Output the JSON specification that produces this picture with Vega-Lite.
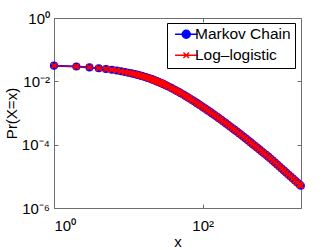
{
  "$schema": "https://vega.github.io/schema/vega-lite/v6.json",
  "width": 247,
  "height": 190,
  "autosize": {"type": "none"},
  "padding": {"left": 54, "top": 18, "right": 31, "bottom": 42},
  "background": "white",
  "config": {
    "view": {"stroke": "#6e6e6e", "strokeWidth": 1},
    "font": "Liberation Sans",
    "axis": {
      "grid": false,
      "domain": false,
      "tickColor": "#6e6e6e",
      "tickSize": -4,
      "labelFont": "Liberation Sans",
      "labelFontSize": 15,
      "labelColor": "black",
      "titleFont": "Liberation Sans",
      "titleFontSize": 15,
      "titleFontWeight": "normal",
      "titleColor": "black"
    }
  },
  "data": {
    "values": [
      {"x": 1, "mc": 0.03122, "ll": 0.03122},
      {"x": 2, "mc": 0.02930, "ll": 0.02930},
      {"x": 3, "mc": 0.02755, "ll": 0.02755},
      {"x": 4, "mc": 0.02595, "ll": 0.02595},
      {"x": 5, "mc": 0.02449, "ll": 0.02449},
      {"x": 6, "mc": 0.02315, "ll": 0.02315},
      {"x": 7, "mc": 0.02191, "ll": 0.02191},
      {"x": 8, "mc": 0.02078, "ll": 0.02078},
      {"x": 9, "mc": 0.01972, "ll": 0.01972},
      {"x": 10, "mc": 0.01875, "ll": 0.01875},
      {"x": 11, "mc": 0.01785, "ll": 0.01785},
      {"x": 12, "mc": 0.01701, "ll": 0.01701},
      {"x": 13, "mc": 0.01623, "ll": 0.01623},
      {"x": 14, "mc": 0.01550, "ll": 0.01550},
      {"x": 15, "mc": 0.01482, "ll": 0.01482},
      {"x": 16, "mc": 0.01418, "ll": 0.01418},
      {"x": 17, "mc": 0.01358, "ll": 0.01358},
      {"x": 18, "mc": 0.01302, "ll": 0.01302},
      {"x": 19, "mc": 0.01250, "ll": 0.01250},
      {"x": 20, "mc": 0.01200, "ll": 0.01200},
      {"x": 21, "mc": 0.01148, "ll": 0.01148},
      {"x": 22, "mc": 0.01100, "ll": 0.01100},
      {"x": 23, "mc": 0.01055, "ll": 0.01055},
      {"x": 24, "mc": 0.01013, "ll": 0.01013},
      {"x": 25, "mc": 0.009727, "ll": 0.009727},
      {"x": 26, "mc": 0.009351, "ll": 0.009351},
      {"x": 27, "mc": 0.008999, "ll": 0.008999},
      {"x": 28, "mc": 0.008663, "ll": 0.008663},
      {"x": 29, "mc": 0.008347, "ll": 0.008347},
      {"x": 30, "mc": 0.008046, "ll": 0.008046},
      {"x": 32, "mc": 0.007493, "ll": 0.007493},
      {"x": 34, "mc": 0.006995, "ll": 0.006995},
      {"x": 37, "mc": 0.006338, "ll": 0.006338},
      {"x": 39, "mc": 0.005949, "ll": 0.005949},
      {"x": 42, "mc": 0.005428, "ll": 0.005428},
      {"x": 45, "mc": 0.004974, "ll": 0.004974},
      {"x": 48, "mc": 0.004573, "ll": 0.004573},
      {"x": 51, "mc": 0.004219, "ll": 0.004219},
      {"x": 55, "mc": 0.003807, "ll": 0.003807},
      {"x": 59, "mc": 0.003451, "ll": 0.003451},
      {"x": 63, "mc": 0.003144, "ll": 0.003144},
      {"x": 67, "mc": 0.002874, "ll": 0.002874},
      {"x": 72, "mc": 0.002583, "ll": 0.002583},
      {"x": 77, "mc": 0.002334, "ll": 0.002334},
      {"x": 83, "mc": 0.002079, "ll": 0.002079},
      {"x": 89, "mc": 0.001864, "ll": 0.001864},
      {"x": 95, "mc": 0.001680, "ll": 0.001680},
      {"x": 102, "mc": 0.001500, "ll": 0.001500},
      {"x": 109, "mc": 0.001352, "ll": 0.001352},
      {"x": 117, "mc": 0.001209, "ll": 0.001209},
      {"x": 125, "mc": 0.001088, "ll": 0.001088},
      {"x": 134, "mc": 0.0009715, "ll": 0.0009715},
      {"x": 144, "mc": 0.0008631, "ll": 0.0008631},
      {"x": 154, "mc": 0.0007718, "ll": 0.0007718},
      {"x": 165, "mc": 0.0006872, "ll": 0.0006872},
      {"x": 177, "mc": 0.0006098, "ll": 0.0006098},
      {"x": 190, "mc": 0.0005399, "ll": 0.0005399},
      {"x": 204, "mc": 0.0004772, "ll": 0.0004772},
      {"x": 218, "mc": 0.0004249, "ll": 0.0004249},
      {"x": 234, "mc": 0.0003749, "ll": 0.0003749},
      {"x": 251, "mc": 0.0003309, "ll": 0.0003309},
      {"x": 269, "mc": 0.0002923, "ll": 0.0002923},
      {"x": 288, "mc": 0.0002584, "ll": 0.0002584},
      {"x": 309, "mc": 0.0002274, "ll": 0.0002274},
      {"x": 331, "mc": 0.0002005, "ll": 0.0002005},
      {"x": 355, "mc": 0.0001763, "ll": 0.0001763},
      {"x": 380, "mc": 0.0001555, "ll": 0.0001555},
      {"x": 407, "mc": 0.0001368, "ll": 0.0001368},
      {"x": 437, "mc": 0.0001198, "ll": 0.0001198},
      {"x": 468, "mc": 0.0001054, "ll": 0.0001054},
      {"x": 502, "mc": 0.00009233, "ll": 0.00009233},
      {"x": 538, "mc": 0.00008100, "ll": 0.00008100},
      {"x": 576, "mc": 0.00007115, "ll": 0.00007115},
      {"x": 618, "mc": 0.00006223, "ll": 0.00006223},
      {"x": 662, "mc": 0.00005457, "ll": 0.00005457},
      {"x": 710, "mc": 0.00004772, "ll": 0.00004772},
      {"x": 761, "mc": 0.00004176, "ll": 0.00004176},
      {"x": 815, "mc": 0.00003659, "ll": 0.00003659},
      {"x": 874, "mc": 0.00003154, "ll": 0.00003154},
      {"x": 936, "mc": 0.00002735, "ll": 0.00002735},
      {"x": 1004, "mc": 0.00002364, "ll": 0.00002364},
      {"x": 1076, "mc": 0.00002045, "ll": 0.00002045},
      {"x": 1153, "mc": 0.00001770, "ll": 0.00001770},
      {"x": 1236, "mc": 0.00001531, "ll": 0.00001531},
      {"x": 1324, "mc": 0.00001325, "ll": 0.00001325},
      {"x": 1419, "mc": 0.00001146, "ll": 0.00001146},
      {"x": 1521, "mc": 0.000009900, "ll": 0.000009900},
      {"x": 1630, "mc": 0.000008557, "ll": 0.000008557},
      {"x": 1747, "mc": 0.000007395, "ll": 0.000007395},
      {"x": 1872, "mc": 0.000006391, "ll": 0.000006391},
      {"x": 2006, "mc": 0.000005522, "ll": 0.000005522},
      {"x": 2090, "mc": 0.000005064, "ll": 0.000005064}
    ]
  },
  "resolve": {"axis": {"x": "independent", "y": "independent"}},
  "layer": [
    {
      "mark": {"type": "line", "color": "#0000ff", "strokeWidth": 2, "clip": false},
      "encoding": {
        "x": {
          "field": "x", "type": "quantitative",
          "scale": {"type": "log", "domain": [1, 2100], "nice": false},
          "axis": {
            "orient": "bottom",
            "values": [1, 100],
            "labelExpr": "datum.value < 10 ? '10⁰' : '10²'",
            "labelPadding": 14,
            "title": "x",
            "titlePadding": 1
          }
        },
        "y": {
          "field": "mc", "type": "quantitative",
          "scale": {"type": "log", "domain": [0.000001, 1], "nice": false},
          "axis": {
            "orient": "left",
            "values": [0.000001, 0.0001, 0.01, 1],
            "labelExpr": "datum.value > 0.5 ? '10⁰' : datum.value > 0.005 ? '10⁻²' : datum.value > 0.00005 ? '10⁻⁴' : '10⁻⁶'",
            "labelPadding": 8.5,
            "title": "Pr(X=x)",
            "titlePadding": 2
          }
        }
      }
    },
    {
      "mark": {"type": "point", "shape": "circle", "filled": true, "color": "#0000ff", "size": 66, "opacity": 1},
      "encoding": {
        "x": {"field": "x", "type": "quantitative", "axis": null},
        "y": {"field": "mc", "type": "quantitative", "axis": null}
      }
    },
    {
      "mark": {"type": "line", "color": "#ff0000", "strokeWidth": 1},
      "encoding": {
        "x": {
          "field": "x", "type": "quantitative",
          "axis": {"orient": "top", "values": [1, 100], "labels": false, "title": null}
        },
        "y": {
          "field": "ll", "type": "quantitative",
          "axis": {"orient": "right", "values": [0.000001, 0.0001, 0.01, 1], "labels": false, "title": null}
        }
      }
    },
    {
      "mark": {"type": "point", "shape": "M-1,-1L1,1M-1,1L1,-1", "filled": false, "color": "#ff0000", "size": 30, "strokeWidth": 2, "opacity": 1},
      "encoding": {
        "x": {"field": "x", "type": "quantitative", "axis": null},
        "y": {"field": "ll", "type": "quantitative", "axis": null}
      }
    },
    {
      "data": {"values": [{"s": "Markov Chain"}, {"s": "Log–logistic"}]},
      "mark": {"type": "point", "filled": true, "opacity": 0, "strokeWidth": 1.5},
      "encoding": {
        "color": {
          "field": "s", "type": "nominal",
          "scale": {"domain": ["Markov Chain", "Log–logistic"], "range": ["#0000ff", "#ff0000"]},
          "legend": {
            "orient": "none",
            "legendX": 113,
            "legendY": 5,
            "title": null,
            "strokeColor": "black",
            "fillColor": "white",
            "padding": 3.5,
            "rowPadding": 4,
            "labelFont": "Liberation Sans",
            "labelFontSize": 15.5,
            "labelColor": "black",
            "symbolSize": 64,
            "symbolStrokeWidth": 1.5,
            "symbolOpacity": 1,
            "symbolOffset": 8,
            "labelOffset": 1,
            "encode": {"symbols": {"update": {"opacity": {"value": 1}}}}
          }
        },
        "stroke": {
          "field": "s", "type": "nominal",
          "scale": {"domain": ["Markov Chain", "Log–logistic"], "range": ["#0000ff", "#ff0000"]}
        },
        "shape": {
          "field": "s", "type": "nominal",
          "scale": {"domain": ["Markov Chain", "Log–logistic"], "range": ["M-2.8,0H2.8M1,0A1,1,0,1,1,-1,0A1,1,0,1,1,1,0Z", "M-2.8,0H2.8M-0.7,-0.7L0.7,0.7M-0.7,0.7L0.7,-0.7"]}
        }
      }
    }
  ]
}
